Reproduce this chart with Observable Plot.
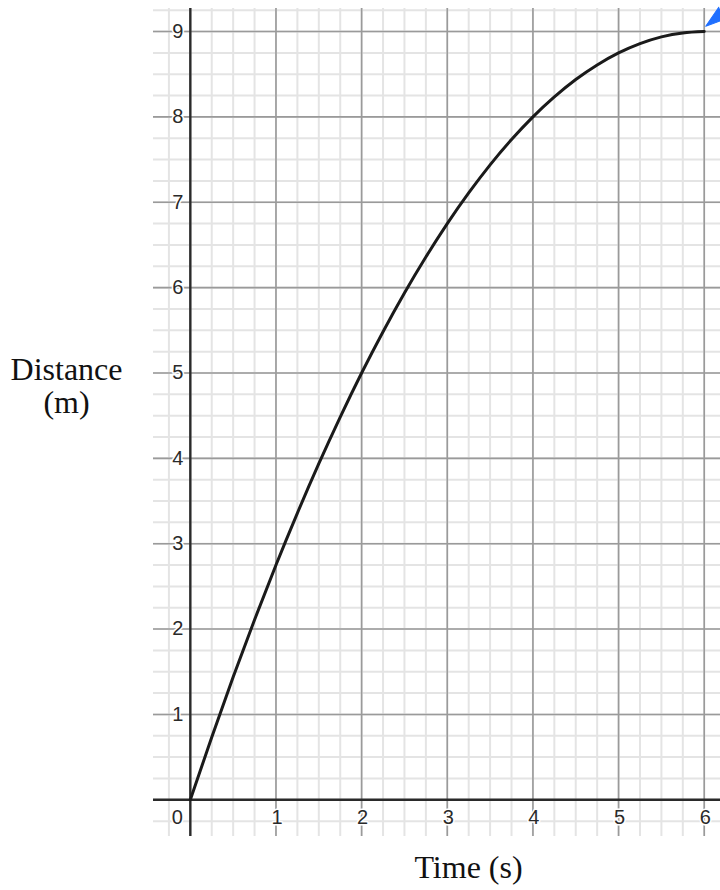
<!DOCTYPE html>
<html>
<head>
<meta charset="utf-8">
<script src="https://cdn.jsdelivr.net/npm/d3@7"></script>
<script src="https://cdn.jsdelivr.net/npm/@observablehq/plot@0.6"></script>
<style>
  html, body { margin: 0; padding: 0; background: #fff; }
  #chart svg { display: block; }
</style>
</head>
<body>
<div id="chart"></div>
<script>
// Curve: time (s) and distance (m)
const times = [0, 0.25, 0.5, 0.75, 1, 1.25, 1.5, 1.75, 2, 2.25, 2.5, 2.75, 3, 3.25, 3.5, 3.75, 4, 4.25, 4.5, 4.75, 5, 5.25, 5.5, 5.75, 6];
const distances = [0, 0.734, 1.438, 2.109, 2.75, 3.359, 3.938, 4.484, 5, 5.484, 5.938, 6.359, 6.75, 7.109, 7.438, 7.734, 8, 8.234, 8.438, 8.609, 8.75, 8.859, 8.938, 8.984, 9];

// Tick labels
const xTickLabels = [1, 2, 3, 4, 5, 6];
const yTickLabels = [1, 2, 3, 4, 5, 6, 7, 8, 9];
const originLabel = [0];

// Grid lines
const xMajor = [1, 2, 3, 4, 5, 6];
const yMajor = [1, 2, 3, 4, 5, 6, 7, 8, 9];
const xMinor = d3.range(-1, 25).map(i => i / 4);
const yMinor = d3.range(-1, 38).map(i => i / 4);

// Blue handle at the top right (base beyond the edge, tip toward the curve end)
const handle = [{t: 6.22, d: 9.22}];

const curve = times.map((t, i) => ({t, d: distances[i]}));

const tickFont = "'Liberation Sans', Arial, sans-serif";
const titleFont = "'Liberation Serif', 'Times New Roman', serif";

const chart = Plot.plot({
  width: 720,
  height: 890,
  marginTop: 8,
  marginRight: 0,
  marginBottom: 54,
  marginLeft: 153,
  x: {domain: [-0.43, 6.19], axis: null},
  y: {domain: [-0.43, 9.27], axis: null},
  style: {background: "#fff"},
  marks: [
    Plot.ruleX(xMinor, {stroke: "#e4e4e4", strokeWidth: 2}),
    Plot.ruleY(yMinor, {stroke: "#e4e4e4", strokeWidth: 2}),
    Plot.ruleX(xMajor, {stroke: "#9a9a9a", strokeWidth: 1.6}),
    Plot.ruleY(yMajor, {stroke: "#9a9a9a", strokeWidth: 1.6}),
    Plot.ruleX([0], {stroke: "#2a2a2a", strokeWidth: 2.4}),
    Plot.ruleY([0], {stroke: "#2a2a2a", strokeWidth: 2.4}),
    Plot.text(yTickLabels, {
      x: 0, y: d => d, text: d => String(d),
      textAnchor: "end", dx: -7, lineAnchor: "middle",
      fontFamily: tickFont, fontSize: 20, fill: "#2a2a2a",
      stroke: "white", strokeWidth: 3
    }),
    Plot.text(xTickLabels, {
      x: d => d, y: 0, text: d => String(d),
      textAnchor: "middle", dx: 1, dy: 18, lineAnchor: "middle",
      fontFamily: tickFont, fontSize: 20, fill: "#2a2a2a",
      stroke: "white", strokeWidth: 3
    }),
    Plot.text(originLabel, {
      x: d => d, y: 0, text: d => String(d),
      textAnchor: "middle", dx: -13, dy: 18, lineAnchor: "middle",
      fontFamily: tickFont, fontSize: 20, fill: "#2a2a2a",
      stroke: "white", strokeWidth: 3
    }),
    Plot.line(curve, {x: "t", y: "d", stroke: "#1a1a1a", strokeWidth: 3, curve: "natural"}),
    Plot.vector(handle, {
      x: "t", y: "d", shape: "spike", anchor: "start",
      length: 22, rotate: 232, r: 7,
      fill: "#1f6fff", stroke: "#1f6fff", strokeWidth: 1
    }),
    Plot.text(["Distance\n(m)"], {
      frameAnchor: "left", dx: -87, dy: -10, lineAnchor: "bottom",
      textAnchor: "middle", lineHeight: 1.03,
      fontFamily: titleFont, fontSize: 32, fill: "#111"
    }),
    Plot.text(["Time (s)"], {
      frameAnchor: "bottom", dx: 31.5, dy: 41, lineAnchor: "bottom",
      textAnchor: "middle",
      fontFamily: titleFont, fontSize: 32, fill: "#111"
    })
  ]
});

document.getElementById("chart").appendChild(chart);
</script>
</body>
</html>
